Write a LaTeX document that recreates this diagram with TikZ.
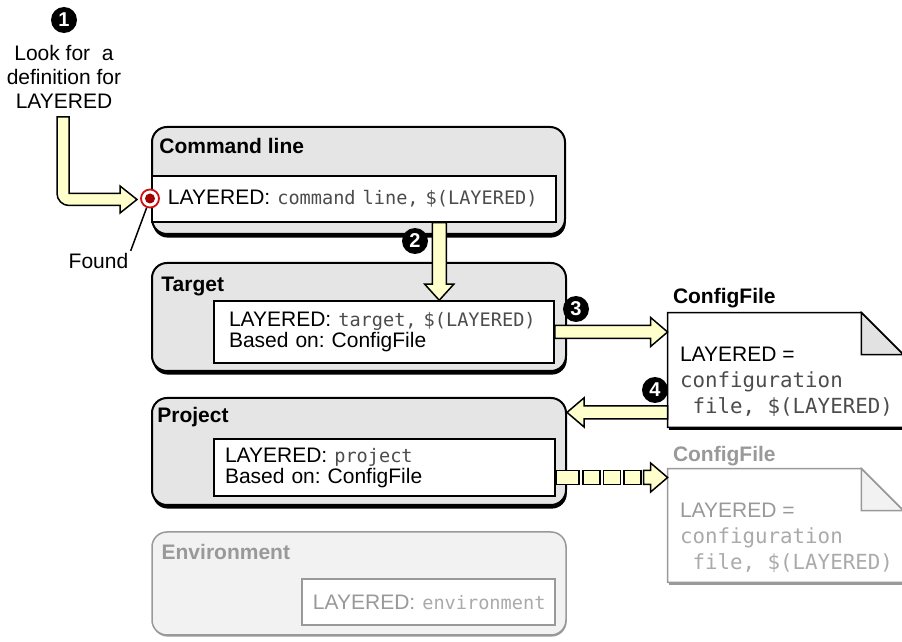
\documentclass[tikz,border=0pt]{standalone}
\usepackage{fontspec}
\setmainfont{Liberation Sans}
\setmonofont{DejaVu Sans Mono}
\usetikzlibrary{calc,shadows}
\frenchspacing

\definecolor{layergray}{HTML}{E5E5E5}
\definecolor{envgray}{HTML}{F2F2F2}
\definecolor{fadegray}{HTML}{999999}
\definecolor{fadetext}{HTML}{AAAAAA}
\definecolor{arrowyellow}{HTML}{FFFFCC}
\definecolor{foundred}{HTML}{A00000}
\definecolor{ringred}{HTML}{D01010}
\definecolor{foldgray}{HTML}{E2E2E2}

\newcommand{\val}[1]{{\ttfamily\fontsize{9.3}{11}\selectfont\color{black!70}#1}}
\newcommand{\fval}[1]{{\ttfamily\fontsize{9.3}{11}\selectfont\color{fadetext}#1}}
\newcommand{\dval}[1]{{\ttfamily\fontsize{10.4}{13}\selectfont\color{black!70}#1}}
\newcommand{\fdval}[1]{{\ttfamily\fontsize{10.4}{13}\selectfont\color{fadetext}#1}}

\begin{document}
\begin{tikzpicture}[x=0.5pt, y=-0.5pt,
                    every node/.style={font=\fontsize{10.5}{12.5}\selectfont},
                    layerbox/.style={draw, line width=1pt, rounded corners=7.5pt, fill=layergray,
                      drop shadow={shadow xshift=0.4pt, shadow yshift=-1.8pt, fill=black, opacity=1}},
                    faded box/.style={draw=fadegray, line width=0.75pt, rounded corners=7.5pt, fill=envgray,
                      drop shadow={shadow xshift=0.3pt, shadow yshift=-0.8pt, fill=fadegray, opacity=1}},
                    entry/.style={draw, line width=0.75pt, fill=white, align=left, inner ysep=0pt,
                      font=\fontsize{10.5}{10.5}\selectfont},
                    title/.style={anchor=base west, inner sep=0pt, font=\fontsize{10.5}{12.5}\selectfont\bfseries},
                    step num/.style={circle, fill=black, text=white, inner sep=0pt, minimum size=13pt,
                      font=\fontsize{10}{10}\selectfont\bfseries},
                    fat/.style={draw, line width=0.75pt, fill=arrowyellow, line join=miter},
                    docpage/.style={draw, line width=0.75pt, fill=white},
                    docfold/.style={draw, line width=0.75pt, fill=foldgray}]

  \useasboundingbox (0,0) rectangle (902,642);
  \clip (0,0) rectangle (902,642);

  % search start
  \node[step num] (s1) at (64,20) {1};
  \node[align=center, anchor=north, inner sep=0pt, font=\fontsize{10.5}{12}\selectfont] (look) at (64,45)
    {Look for \ a\\definition for\\LAYERED};

  % layers
  \node[layerbox, minimum width=206.5pt, minimum height=53.5pt] (cmd) at (358.5,180.5) {};
  \node[title] (cmdt) at ($(cmd.north west)+(8,28)$) {Command line};
  \node[entry, minimum height=23pt, text width=186pt, inner xsep=8pt] (cin) at (354,199)
    {LAYERED: \val{command~line,~\$(LAYERED)}};

  \node[layerbox, minimum width=207pt, minimum height=54pt] (tgt) at (359,317) {};
  \node[title] (tgtt) at ($(tgt.north west)+(10,30)$) {Target};
  \node[entry, minimum height=31pt, text width=155pt, inner xsep=7.5pt] (tin) at (384,332)
    {LAYERED: \val{target,~\$(LAYERED)}\\Based on: ConfigFile};

  \node[layerbox, minimum width=207pt, minimum height=53.5pt] (prj) at (359,451.5) {};
  \node[title] (prjt) at ($(prj.north west)+(6,26)$) {Project};
  \node[entry, minimum height=28.5pt, text width=159.5pt, inner xsep=5.5pt] (pin) at (384.5,467.5)
    {LAYERED: \val{project}\\Based on: ConfigFile};

  \node[faded box, minimum width=207pt, minimum height=51.5pt] (env) at (359,583.5) {};
  \node[title, text=fadegray] (envt) at ($(env.north west)+(10,28)$) {Environment};
  \node[entry, draw=fadegray, text=fadegray, minimum height=23pt, text width=115.5pt, inner xsep=5.5pt] (ein) at (428.5,602)
    {LAYERED:~\fval{environment}};

  % config files
  \node[minimum width=117.5pt, minimum height=57pt, inner sep=0pt] (cf1) at (785.5,370) {};
  \fill[black] ($(cf1.south west)+(1,0)$) rectangle ($(cf1.south east)+(1,3)$);
  \filldraw[docpage] (cf1.north west) -- ($(cf1.north east)+(-42,0)$) -- ($(cf1.north east)+(0,42)$)
    -- (cf1.south east) -- (cf1.south west) -- cycle;
  \filldraw[docfold] ($(cf1.north east)+(-42,0)$) -- ($(cf1.north east)+(-42,42)$) -- ($(cf1.north east)+(0,42)$) -- cycle;
  \node[title] (cf1t) at ($(cf1.north west)+(5,-9)$) {ConfigFile};
  \node[anchor=north west, inner sep=0pt, align=left, font=\fontsize{10.5}{13}\selectfont] (cf1v)
    at ($(cf1.north west)+(12,34)$) {LAYERED =\\\dval{configuration}\\\dval{\hphantom{x}file,~\$(LAYERED)}};

  \node[minimum width=117.5pt, minimum height=56.5pt, inner sep=0pt] (cf2) at (785.5,525.5) {};
  \fill[fadegray] ($(cf2.south west)+(1,0)$) rectangle ($(cf2.south east)+(1,3)$);
  \filldraw[docpage, draw=fadegray] (cf2.north west) -- ($(cf2.north east)+(-42,0)$) -- ($(cf2.north east)+(0,42)$)
    -- (cf2.south east) -- (cf2.south west) -- cycle;
  \filldraw[docfold, draw=fadegray, fill=envgray] ($(cf2.north east)+(-42,0)$) -- ($(cf2.north east)+(-42,42)$) -- ($(cf2.north east)+(0,42)$) -- cycle;
  \node[title, text=fadegray] (cf2t) at ($(cf2.north west)+(5,-7)$) {ConfigFile};
  \node[anchor=north west, inner sep=0pt, align=left, text=fadegray, font=\fontsize{10.5}{13}\selectfont] (cf2v)
    at ($(cf2.north west)+(12,34)$) {LAYERED =\\\fdval{configuration}\\\fdval{\hphantom{x}file,~\$(LAYERED)}};

  % found marker
  \node[circle, draw=ringred, line width=0.9pt, fill=white, minimum size=9pt, inner sep=0pt] (mark) at (150,198.5) {};
  \fill[foundred] (mark.center) circle[radius=5];
  \node[inner sep=1pt] (found) at (98.5,261) {Found};
  \draw[line width=0.75pt] (found.north east) -- (mark.250);

  % fat arrows
  \coordinate (a1s) at (63,117);
  \coordinate (a1e) at (137,199.5);
  \filldraw[fat] ($(a1s)+(-6,0)$) -- ($(a1s |- a1e)+(-6,-6)$)
    .. controls ($(a1s |- a1e)+(-6,0.6)$) and ($(a1s |- a1e)+(-0.6,6)$) .. ($(a1s |- a1e)+(6,6)$)
    -- ($(a1e)+(-17,6)$) -- ($(a1e)+(-17,13.5)$) -- (a1e) -- ($(a1e)+(-17,-13.5)$) -- ($(a1e)+(-17,-6)$)
    -- ($(a1s |- a1e)+(6,-6)$) -- ($(a1s)+(6,0)$) -- cycle;

  \coordinate (a2s) at ($(cin.south west)+(288,0)$);
  \coordinate (a2e) at (a2s |- tin.north);
  \filldraw[fat] ($(a2s)+(-7,0)$) -- ($(a2e)+(-7,-16)$) -- ($(a2e)+(-14.5,-16)$) -- (a2e)
    -- ($(a2e)+(14.5,-16)$) -- ($(a2e)+(7,-16)$) -- ($(a2s)+(7,0)$) -- cycle;

  \coordinate (a3s) at (tin.east);
  \coordinate (a3e) at (cf1.west |- tin.east);
  \filldraw[fat] ($(a3s)+(0,-6.5)$) -- ($(a3e)+(-17,-6.5)$) -- ($(a3e)+(-17,-14.5)$) -- (a3e)
    -- ($(a3e)+(-17,14.5)$) -- ($(a3e)+(-17,6.5)$) -- ($(a3s)+(0,6.5)$) -- cycle;

  \coordinate (a4s) at ($(cf1.south west)+(0,-15)$);
  \coordinate (a4e) at (prj.east |- a4s);
  \filldraw[fat] ($(a4s)+(0,-6.5)$) -- ($(a4e)+(17,-6.5)$) -- ($(a4e)+(17,-14.5)$) -- (a4e)
    -- ($(a4e)+(17,14.5)$) -- ($(a4e)+(17,6.5)$) -- ($(a4s)+(0,6.5)$) -- cycle;

  % not-yet-searched link
  \coordinate (a5s) at ($(pin.east)+(0,10)$);
  \coordinate (a5e) at (cf2.west |- a5s);
  \filldraw[fat] ($(a5s)+(0,-7)$) rectangle ($(a5s)+(23,7)$);
  \foreach \i in {0,1,2}
    \filldraw[fat] ($(a5s)+(27+20.5*\i,-7)$) rectangle ++(17,14);
  \filldraw[fat] ($(a5e)+(-24,-7)$) -- ($(a5e)+(-17,-7)$) -- ($(a5e)+(-17,-14.5)$) -- (a5e)
    -- ($(a5e)+(-17,14.5)$) -- ($(a5e)+(-17,7)$) -- ($(a5e)+(-24,7)$) -- cycle;

  % step numbers
  \node[step num] (s2) at (415,241) {2};
  \node[step num] (s3) at (576,309) {3};
  \node[step num] (s4) at (655,390) {4};

\end{tikzpicture}
\end{document}
